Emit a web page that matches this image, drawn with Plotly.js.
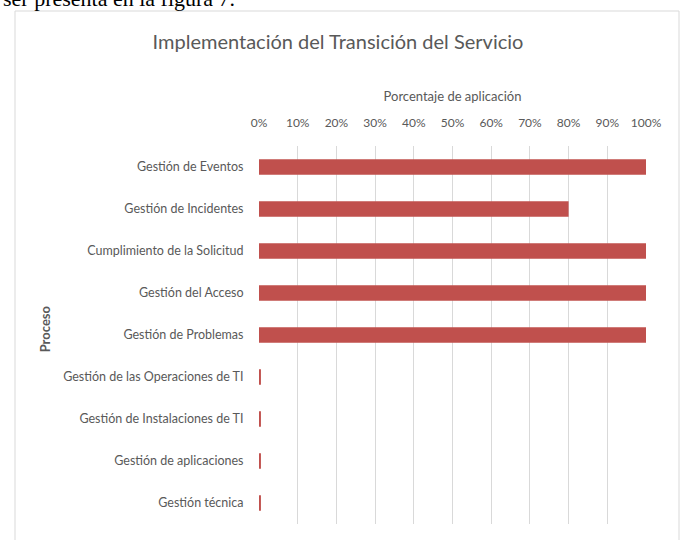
<!DOCTYPE html>
<html>
<head>
<meta charset="utf-8">
<script src="https://cdn.plot.ly/plotly-3.0.1.min.js"></script>
<style>html,body{margin:0;padding:0;background:#fff;}</style>
</head>
<body>
<div id="chart" style="width:683px;height:540px;"></div>
<script>
const categories = [
  "Gestión de Eventos",
  "Gestión de Incidentes",
  "Cumplimiento de la Solicitud",
  "Gestión del Acceso",
  "Gestión de Problemas",
  "Gestión de las Operaciones de TI",
  "Gestión de Instalaciones de TI",
  "Gestión de aplicaciones",
  "Gestión técnica"
];
const values = [100, 80, 100, 100, 100, 0.5, 0.5, 0.5, 0.5];
const tickVals = [0,10,20,30,40,50,60,70,80,90,100];
const tickText = ["0%","10%","20%","30%","40%","50%","60%","70%","80%","90%","100%"];

const FONT = "Lato, 'Open Sans', sans-serif";
const GRAY = "#595959";

const trace = {
  type: "bar",
  orientation: "h",
  x: values,
  y: categories,
  marker: {color: "#c0504d"},
  width: 0.37,
  hoverinfo: "x+y"
};

const layout = {
  width: 683, height: 540,
  margin: {l: 259, r: 37, t: 146, b: 16},
  paper_bgcolor: "#fff", plot_bgcolor: "#fff",
  showlegend: false,
  font: {family: FONT, color: GRAY, size: 12},
  title: {
    text: "Implementación del Transición del Servicio",
    font: {family: FONT, size: 20, color: GRAY},
    x: 338/683, xanchor: "center", xref: "container",
    y: 1 - 42/540, yref: "container", yanchor: "middle"
  },
  xaxis: {
    side: "top",
    range: [0, 100],
    tickvals: tickVals,
    ticktext: tickText,
    showgrid: true, gridcolor: "#d9d9d9", gridwidth: 1,
    zeroline: false, showline: false,
    ticks: "outside", ticklen: 13, tickcolor: "rgba(0,0,0,0)",
    tickfont: {family: FONT, size: 12, color: GRAY},
    title: {text: "Porcentaje de aplicación", font: {family: FONT, size: 13, color: GRAY}, standoff: 10},
    fixedrange: true
  },
  yaxis: {
    type: "category",
    categoryorder: "array",
    categoryarray: categories,
    autorange: "reversed",
    showgrid: false, zeroline: false, showline: false,
    ticks: "outside", ticklen: 12, tickcolor: "rgba(0,0,0,0)",
    tickfont: {family: FONT, size: 12.5, color: GRAY},
    fixedrange: true
  },
  shapes: [
    {type: "rect", xref: "paper", yref: "paper",
     x0: -244/387, x1: 420/387, y0: -30/378, y1: (378+135)/378,
     line: {color: "#d9d9d9", width: 1}, fillcolor: "rgba(0,0,0,0)", layer: "below"}
  ],
  annotations: [
    {text: "<b>Proceso</b>", xref: "paper", yref: "paper",
     x: -214/387, y: 0.515, xanchor: "center", yanchor: "middle",
     textangle: -90, showarrow: false,
     font: {family: FONT, size: 13, color: GRAY}},
    {text: "ser presenta en la figura 7.", xref: "paper", yref: "paper",
     x: -258/387, y: (524-13)/378, xanchor: "left", yanchor: "bottom",
     showarrow: false,
     font: {family: "'Liberation Serif', 'Times New Roman', serif", size: 22, color: "#000"}}
  ]
};

Plotly.newPlot("chart", [trace], layout, {displayModeBar: false, staticPlot: true});
</script>
</body>
</html>
